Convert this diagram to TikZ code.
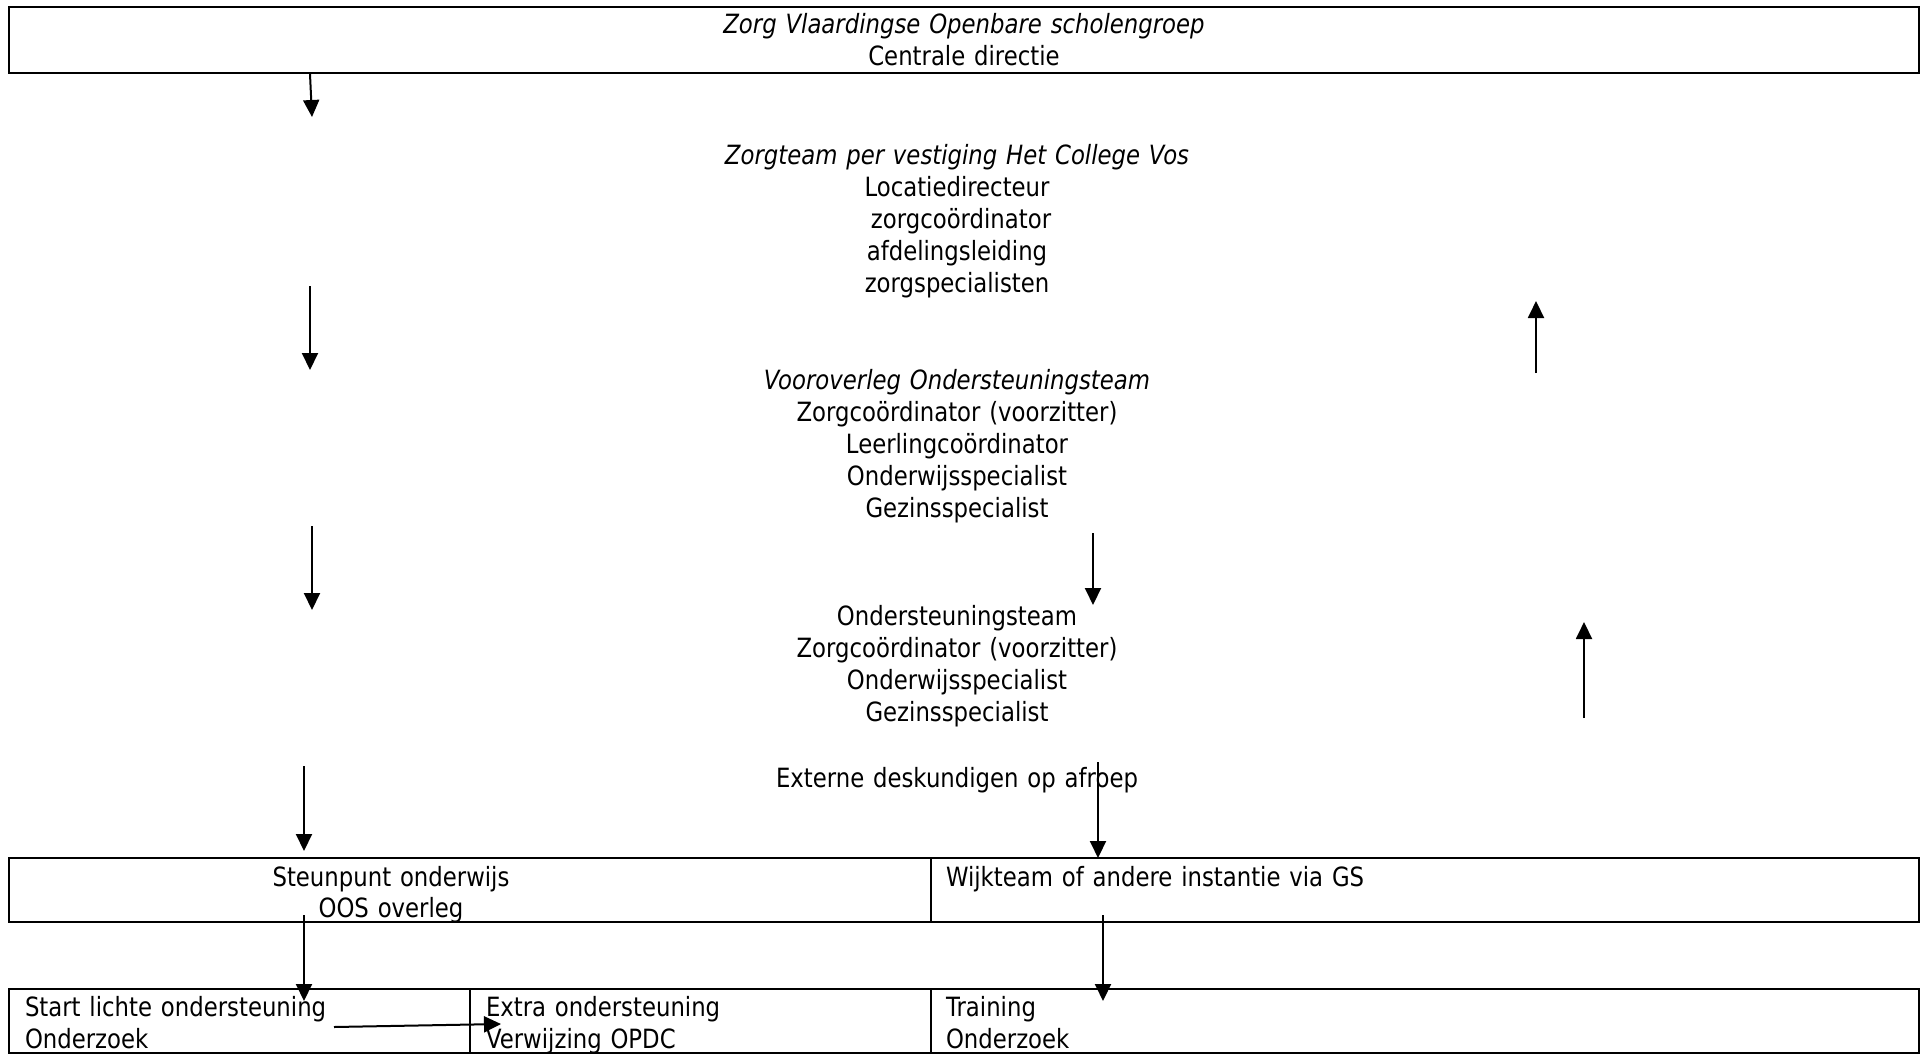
\documentclass[tikz,border=0pt]{standalone}
\usepackage{fontspec}
\setmainfont[FakeStretch=0.86]{DejaVu Sans}
\usetikzlibrary{arrows.meta}
\begin{document}
\begin{tikzpicture}[x=1pt,y=-1pt,
  every node/.style={inner sep=0pt,outer sep=0pt,font=\fontsize{26.5}{32}\selectfont},
  ctext/.style={anchor=base,align=center,text width=900pt},
  ltext/.style={anchor=base west,align=left,text width=440pt},
  boxline/.style={line width=2.6pt},
  arr/.style={line width=2pt,-{Triangle[length=17pt,width=16pt]}}
]
\useasboundingbox (0,0) rectangle (1924,1055);
% top box
\draw[boxline] (9,7) rectangle (1919,73);
\node[ctext] (top) at (964,33) {\textit{Zorg Vlaardingse Openbare scholengroep}\\Centrale directie};
% middle text blocks
\node[ctext] (zorgteam) at (957,164) {\textit{Zorgteam per vestiging Het College Vos}\\Locatiedirecteur\\\hspace*{8pt}zorgco\"ordinator\\afdelingsleiding\\zorgspecialisten};
\node[ctext] (voor) at (957,389) {\textit{Vooroverleg Ondersteuningsteam}\\Zorgco\"ordinator (voorzitter)\\Leerlingco\"ordinator\\Onderwijsspecialist\\Gezinsspecialist};
\node[ctext] (ost) at (957,625) {Ondersteuningsteam\\Zorgco\"ordinator (voorzitter)\\Onderwijsspecialist\\Gezinsspecialist};
\node[ctext] (ext) at (957,787) {Externe deskundigen op afroep};
% middle row
\draw[boxline] (9,858) rectangle (1919,922);
\draw[boxline] (931,858) -- (931,922);
\node[ctext,text width=400pt] (steun) at (391,886) {Steunpunt onderwijs\\[-1pt]OOS overleg};
\node[ltext] (wijk) at (946,886) {Wijkteam of andere instantie via GS};
% bottom row
\draw[boxline] (9,989) rectangle (1919,1053);
\draw[boxline] (470,989) -- (470,1053);
\draw[boxline] (931,989) -- (931,1053);
\node[ltext] (start) at (25,1016) {Start lichte ondersteuning\\Onderzoek};
\node[ltext] (extra) at (486,1016) {Extra ondersteuning\\Verwijzing OPDC};
\node[ltext] (train) at (946,1016) {Training\\Onderzoek};
% arrow end points
\coordinate (a1s) at (310,74);   \coordinate (a1e) at (312,117);
\coordinate (a2s) at (310,286);  \coordinate (a2e) at (310,370);
\coordinate (a3s) at (312,526);  \coordinate (a3e) at (312,610);
\coordinate (a4s) at (1093,533); \coordinate (a4e) at (1093,605);
\coordinate (a5s) at (304,766);  \coordinate (a5e) at (304,851);
\coordinate (a6s) at (1098,762); \coordinate (a6e) at (1098,858);
\coordinate (a7s) at (304,915);  \coordinate (a7e) at (304,1001);
\coordinate (a8s) at (1103,915); \coordinate (a8e) at (1103,1001);
\coordinate (a9s) at (334,1027); \coordinate (a9e) at (501,1024);
\coordinate (u1s) at (1536,373); \coordinate (u1e) at (1536,301);
\coordinate (u2s) at (1584,718); \coordinate (u2e) at (1584,622);
\foreach \a in {a1,a2,a3,a4,a5,a6,a7,a8,a9,u1,u2}
  \draw[arr] (\a s) -- (\a e);
\end{tikzpicture}
\end{document}
